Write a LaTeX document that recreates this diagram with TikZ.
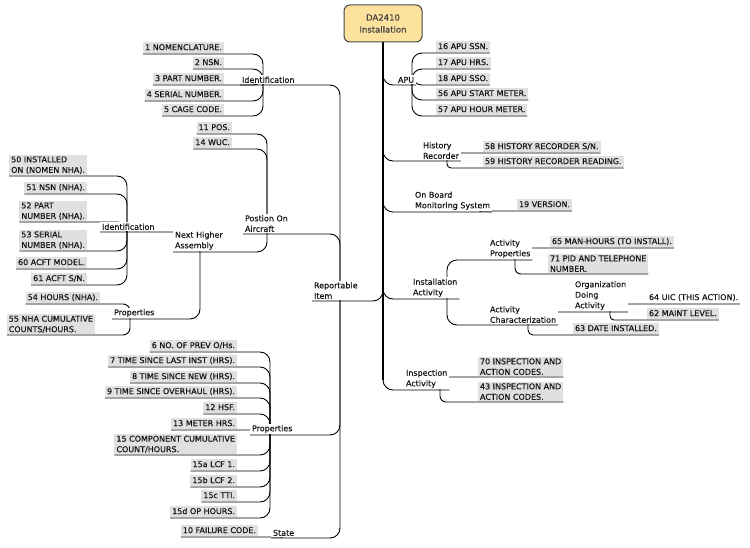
\documentclass[tikz,border=0pt]{standalone}
\usepackage{fontspec}
\setmainfont{DejaVu Sans}[BoldFont=DejaVu Sans, BoldFeatures={FakeBold=0.35}]
\usepackage{xcolor}
\usepackage{tikz}
\pgfdeclarelayer{bg}
\pgfsetlayers{bg,main}
\definecolor{rootfill}{RGB}{252,226,156}
\definecolor{rootline}{RGB}{70,70,70}
\definecolor{leafgray}{RGB}{224,224,224}
\definecolor{ink}{RGB}{20,20,20}

\tikzset{
  mapfont/.style={font=\fontsize{8}{10.5}\selectfont\bfseries},
  rootbox/.style={draw=rootline, line width=1pt, fill=rootfill, rounded corners=6pt,
    minimum width=78pt, minimum height=37pt, align=center, text=ink!80,
    font=\fontsize{8.5}{12}\selectfont\bfseries},
  topic/.style={mapfont, fill=white, inner xsep=2pt, inner ysep=1.5pt, align=left,
    text=ink, outer xsep=0pt, outer ysep=0.6pt},
  leaf/.style={topic, fill=leafgray, text height=6.2pt, text depth=1.8pt},
  leafm/.style={leaf, text height=, text depth=},
  link/.style={line width=0.9pt, rounded corners=10pt},
  trunk/.style={line width=1.8pt},
}

\begin{document}
\begin{tikzpicture}[x=1pt,y=-1pt]
\useasboundingbox (0,0) rectangle (750,548);

% Root
\node[rootbox] (root) at (383,23.5) {DA2410\\Installation};
\coordinate (trunkend) at (383,380);

% Reportable item
\node[topic, anchor=south west] (rep) at (312,301) {Reportable\\Item};
\coordinate (repJ) at (340,301);

\node[topic, anchor=south west] (id1) at (240,85) {Identification};
\coordinate (id1J) at (263,85);
\node[leaf, anchor=south east] (l1) at (224,54) {1 NOMENCLATURE.};
\node[leaf, anchor=south east] (l2) at (224,69) {2 NSN.};
\node[leaf, anchor=south east] (l3) at (224,85) {3 PART NUMBER.};
\node[leaf, anchor=south east] (l4) at (224,101) {4 SERIAL NUMBER.};
\node[leaf, anchor=south east] (l5) at (224,116) {5 CAGE CODE.};

\node[topic, anchor=south west] (poa) at (243,234) {Postion On\\Aircraft};
\coordinate (poaJ) at (267,234);
\node[leaf, anchor=south east] (l11) at (232,134) {11 POS.};
\node[leaf, anchor=south east] (l14) at (232,149) {14 WUC.};

\node[topic, anchor=south west] (nha) at (173,252) {Next Higher\\Assembly};
\coordinate (nhaJ) at (200,252);
\node[topic, anchor=south west] (id2) at (100,232) {Identification};
\coordinate (id2J) at (127,232);
\node[leafm, anchor=south east] (l50) at (87,176) {50 INSTALLED\\ON (NOMEN NHA).};
\node[leaf, anchor=south east] (l51) at (87,194) {51 NSN (NHA).};
\node[leafm, anchor=south east] (l52) at (87,222) {52 PART\\NUMBER (NHA).};
\node[leafm, anchor=south east] (l53) at (87,251) {53 SERIAL\\NUMBER (NHA).};
\node[leaf, anchor=south east] (l60) at (87,269) {60 ACFT MODEL.};
\node[leaf, anchor=south east] (l61) at (87,285) {61 ACFT S/N.};

\node[topic, anchor=south west] (prop2) at (112,319) {Properties};
\coordinate (prop2J) at (130,319);
\node[leaf, anchor=south east] (l54) at (100,304) {54 HOURS (NHA).};
\node[leafm, anchor=south east] (l55) at (95,335) {55 NHA CUMULATIVE\\COUNTS/HOURS.};

\node[topic, anchor=south west] (prop) at (250,435) {Properties};
\coordinate (propJ) at (270,435);
\node[leaf, anchor=south east] (l6) at (237,352) {6 NO. OF PREV O/Hs.};
\node[leaf, anchor=south east] (l7) at (237,367) {7 TIME SINCE LAST INST (HRS).};
\node[leaf, anchor=south east] (l8) at (237,383) {8 TIME SINCE NEW (HRS).};
\node[leaf, anchor=south east] (l9) at (237,398) {9 TIME SINCE OVERHAUL (HRS).};
\node[leaf, anchor=south east] (l12) at (237,414) {12 HSF.};
\node[leaf, anchor=south east] (l13) at (237,430) {13 METER HRS.};
\node[leafm, anchor=south east] (l15) at (237,455) {15 COMPONENT CUMULATIVE\\COUNT/HOURS.};
\node[leaf, anchor=south east] (l15a) at (237,471) {15a LCF 1.};
\node[leaf, anchor=south east] (l15b) at (237,487) {15b LCF 2.};
\node[leaf, anchor=south east] (l15c) at (237,502) {15c TTI.};
\node[leaf, anchor=south east] (l15d) at (237,518) {15d OP HOURS.};

\node[topic, anchor=south west] (state) at (271,538) {State};
\coordinate (stateJ) at (282,538);
\node[leaf, anchor=south east] (l10) at (258,537) {10 FAILURE CODE.};

% APU
\node[topic, anchor=south west] (apu) at (396,85) {APU};
\coordinate (apuJ) at (412,85);
\node[leaf, anchor=south west] (l16) at (436,53) {16 APU SSN.};
\node[leaf, anchor=south west] (l17) at (436,69) {17 APU HRS.};
\node[leaf, anchor=south west] (l18) at (436,85) {18 APU SSO.};
\node[leaf, anchor=south west] (l56) at (436,100) {56 APU START METER.};
\node[leaf, anchor=south west] (l57) at (436,116) {57 APU HOUR METER.};

% History recorder
\node[topic, anchor=south west] (hr) at (421,161) {History\\Recorder};
\coordinate (hrJ) at (447,161);
\node[leaf, anchor=south west] (l58) at (483,153) {58 HISTORY RECORDER S/N.};
\node[leaf, anchor=south west] (l59) at (483,168) {59 HISTORY RECORDER READING.};

% On board monitoring
\node[topic, anchor=south west] (obm) at (413,212) {On Board\\Monitoring System};
\coordinate (obmJ) at (480,212);
\node[leaf, anchor=south west] (l19) at (517,211) {19 VERSION.};

% Installation activity
\node[topic, anchor=south west] (ia) at (411,299) {Installation\\Activity};
\coordinate (iaJ) at (447,299);
\node[topic, anchor=south west] (ap) at (488,260) {Activity\\Properties};
\coordinate (apJ) at (515,260);
\node[leaf, anchor=south west] (l65) at (550,248) {65 MAN-HOURS (TO INSTALL).};
\node[leafm, anchor=south west] (l71) at (548,274) {71 PID AND TELEPHONE\\NUMBER.};
\node[topic, anchor=south west] (ac) at (488,325) {Activity\\Characterization};
\coordinate (acJ) at (528,325);
\node[topic, anchor=south west] (oda) at (573,312) {Organization\\Doing\\Activity};
\coordinate (odaJ) at (610,312);
\node[leaf, fill=white, anchor=south west] (l64) at (647,304) {64 UIC (THIS ACTION).};
\node[leaf, anchor=south west] (l62) at (647,320) {62 MAINT LEVEL.};
\node[leaf, anchor=south west] (l63) at (573,335) {63 DATE INSTALLED.};

% Inspection activity
\node[topic, anchor=south west] (insp) at (404,390) {Inspection\\Activity};
\coordinate (inspJ) at (440,390);
\node[leafm, anchor=south west] (l70) at (478,377) {70 INSPECTION AND\\ACTION CODES.};
\node[leafm, anchor=south west] (l43) at (478,402) {43 INSPECTION AND\\ACTION CODES.};

\begin{pgfonlayer}{bg}
  % Trunk and main branches
  \draw[trunk] (root.south) -- (trunkend);
  \draw[link] (rep.south west) -| (root.south);
  \draw[link] (root.south) |- (apu.south east);
  \draw[link] (root.south) |- (hr.south east);
  \draw[link] (root.south) |- (obm.south east);
  \draw[link] (root.south) |- (ia.south east);
  \draw[link] (root.south) |- (insp.south east);

  % Left side
  \draw[link] (id1.south west) -| (repJ);
  \draw[link] (poa.south west) -| (repJ);
  \draw[link] (prop.south west) -| (repJ);
  \draw[link] (state.south west) -| (repJ);

  \draw[link] (l1.south west) -| (id1J);
  \draw[link] (l2.south west) -| (id1J);
  \draw[link] (l3.south west) -| (id1J);
  \draw[link] (l4.south west) -| (id1J);
  \draw[link] (l5.south west) -| (id1J);

  \draw[link] (l11.south west) -| (poaJ);
  \draw[link] (l14.south west) -| (poaJ);
  \draw[link] (nha.south west) -| (poaJ);

  \draw[link] (id2.south west) -| (nhaJ);
  \draw[link] (prop2.south west) -| (nhaJ);

  \draw[link] (l50.south west) -| (id2J);
  \draw[link] (l51.south west) -| (id2J);
  \draw[link] (l52.south west) -| (id2J);
  \draw[link] (l53.south west) -| (id2J);
  \draw[link] (l60.south west) -| (id2J);
  \draw[link] (l61.south west) -| (id2J);

  \draw[link, rounded corners=7pt] (l54.south west) -| (prop2J);
  \draw[link, rounded corners=7pt] (l55.south west) -| (prop2J);

  \draw[link] (l6.south west) -| (propJ);
  \draw[link] (l7.south west) -| (propJ);
  \draw[link] (l8.south west) -| (propJ);
  \draw[link] (l9.south west) -| (propJ);
  \draw[link] (l12.south west) -| (propJ);
  \draw[link, rounded corners=2pt] (l13.south west) -| (propJ);
  \draw[link] (l15.south west) -| (propJ);
  \draw[link] (l15a.south west) -| (propJ);
  \draw[link] (l15b.south west) -| (propJ);
  \draw[link] (l15c.south west) -| (propJ);
  \draw[link] (l15d.south west) -| (propJ);

  \draw[link, rounded corners=0.5pt] (l10.south west) -| (stateJ);

  % Right side
  \draw[link] (apuJ) |- (l16.south east);
  \draw[link] (apuJ) |- (l17.south east);
  \draw[link] (apuJ) |- (l18.south east);
  \draw[link] (apuJ) |- (l56.south east);
  \draw[link] (apuJ) |- (l57.south east);

  \draw[link, rounded corners=4pt] (hrJ) |- (l58.south east);
  \draw[link, rounded corners=4pt] (hrJ) |- (l59.south east);

  \draw[link, rounded corners=0.5pt] (obmJ) |- (l19.south east);

  \draw[link] (iaJ) |- (ap.south east);
  \draw[link] (iaJ) |- (ac.south east);
  \draw[link, rounded corners=6pt] (apJ) |- (l65.south east);
  \draw[link, rounded corners=6pt] (apJ) |- (l71.south east);
  \draw[link, rounded corners=6pt] (acJ) |- (oda.south east);
  \draw[link, rounded corners=5pt] (acJ) |- (l63.south east);
  \draw[link, rounded corners=4pt] (odaJ) |- (l64.south east);
  \draw[link, rounded corners=4pt] (odaJ) |- (l62.south east);

  \draw[link, rounded corners=6pt] (inspJ) |- (l70.south east);
  \draw[link, rounded corners=6pt] (inspJ) |- (l43.south east);
\end{pgfonlayer}
\end{tikzpicture}
\end{document}
